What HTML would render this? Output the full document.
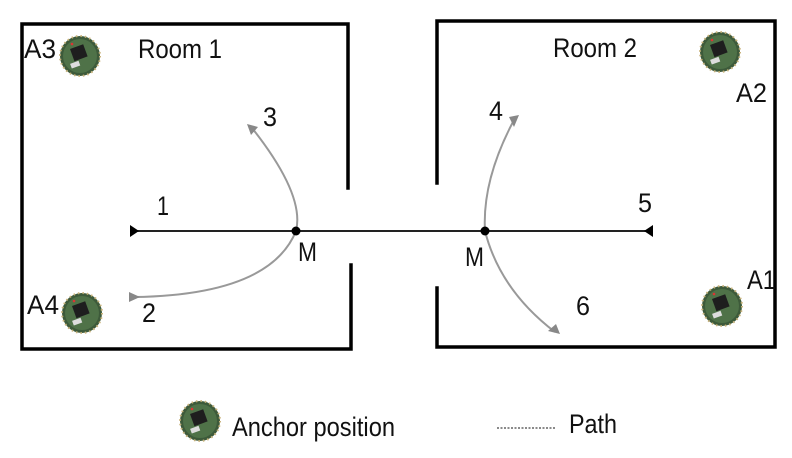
<!DOCTYPE html>
<html><head><meta charset="utf-8"><style>
html,body{margin:0;padding:0;background:#fff;width:792px;height:458px;overflow:hidden}
text{font-family:"Liberation Sans",sans-serif;fill:#111}
</style></head><body>
<svg width="792" height="458" viewBox="0 0 792 458" xmlns="http://www.w3.org/2000/svg">
<defs>
<g id="chip">
<circle cx="0" cy="0" r="20" fill="#3d5a3a"/>
<circle cx="0" cy="0" r="17" fill="#4f7248"/>
<circle cx="0" cy="0" r="20" fill="none" stroke="#c9b27a" stroke-width="2" stroke-dasharray="1.5 3"/>
<rect x="-7" y="-10" width="14" height="13" fill="#1e1e1e" transform="rotate(-20)"/>
<rect x="-12" y="4" width="9" height="5" fill="#ddd" transform="rotate(-20)"/>
<circle cx="-8" cy="-12" r="1.3" fill="#d33"/>
</g>
</defs>
<g stroke="#000" stroke-width="3.5" fill="none" stroke-linecap="square">
<polyline points="348,188 348,24 22,24 22,349 351,349 351,265"/>
<polyline points="437,183 437,21 775,21 775,347 437,347 437,288"/>
</g>
<line x1="132" y1="231" x2="652" y2="231" stroke="#222" stroke-width="2"/>
<polygon points="130,225 139,231 130,237" fill="#000"/>
<polygon points="653,225 644,231 653,237" fill="#000"/>
<g stroke="#999" stroke-width="2" fill="none">
<path d="M252,128 Q305,195 296,231"/>
<path d="M296,231 Q270,295 134,297"/>
<path d="M514,120 Q482,180 485,231"/>
<path d="M485,231 Q500,290 555,332"/>
</g>
<g fill="#888">
<polygon points="247,124 258,127 251,135"/>
<polygon points="129,292 140,297 129,302"/>
<polygon points="509,117 519,115 514,127"/>
<polygon points="548,331 560,334 556,324"/>
</g>
<circle cx="296" cy="231" r="4.5" fill="#000"/>
<circle cx="485" cy="231" r="4.5" fill="#000"/>
<g font-size="27">
<text x="24" y="58" textLength="32" lengthAdjust="spacingAndGlyphs">A3</text>
<text x="138" y="58" textLength="84" lengthAdjust="spacingAndGlyphs">Room 1</text>
<text x="553" y="57" textLength="84" lengthAdjust="spacingAndGlyphs">Room 2</text>
<text x="736" y="102" textLength="31" lengthAdjust="spacingAndGlyphs">A2</text>
<text x="747" y="289" textLength="29" lengthAdjust="spacingAndGlyphs">A1</text>
<text x="27" y="314" textLength="32" lengthAdjust="spacingAndGlyphs">A4</text>
<text x="263" y="126" textLength="14" lengthAdjust="spacingAndGlyphs">3</text>
<text x="157" y="215" textLength="12" lengthAdjust="spacingAndGlyphs">1</text>
<text x="142" y="322" textLength="14" lengthAdjust="spacingAndGlyphs">2</text>
<text x="298" y="261" textLength="19" lengthAdjust="spacingAndGlyphs">M</text>
<text x="465" y="266" textLength="19" lengthAdjust="spacingAndGlyphs">M</text>
<text x="489" y="120" textLength="14" lengthAdjust="spacingAndGlyphs">4</text>
<text x="638" y="212" textLength="14" lengthAdjust="spacingAndGlyphs">5</text>
<text x="576" y="315" textLength="14" lengthAdjust="spacingAndGlyphs">6</text>
<text x="232" y="436" textLength="163" lengthAdjust="spacingAndGlyphs">Anchor position</text>
<text x="569" y="433" textLength="48" lengthAdjust="spacingAndGlyphs">Path</text>
</g>
<line x1="497" y1="428" x2="556" y2="428" stroke="#444" stroke-width="1.2" stroke-dasharray="2 1.5"/>
<use href="#chip" x="80" y="56"/>
<use href="#chip" x="82" y="313"/>
<use href="#chip" x="720" y="52"/>
<use href="#chip" x="722" y="306"/>
<use href="#chip" x="200" y="421"/>
</svg>
</body></html>
